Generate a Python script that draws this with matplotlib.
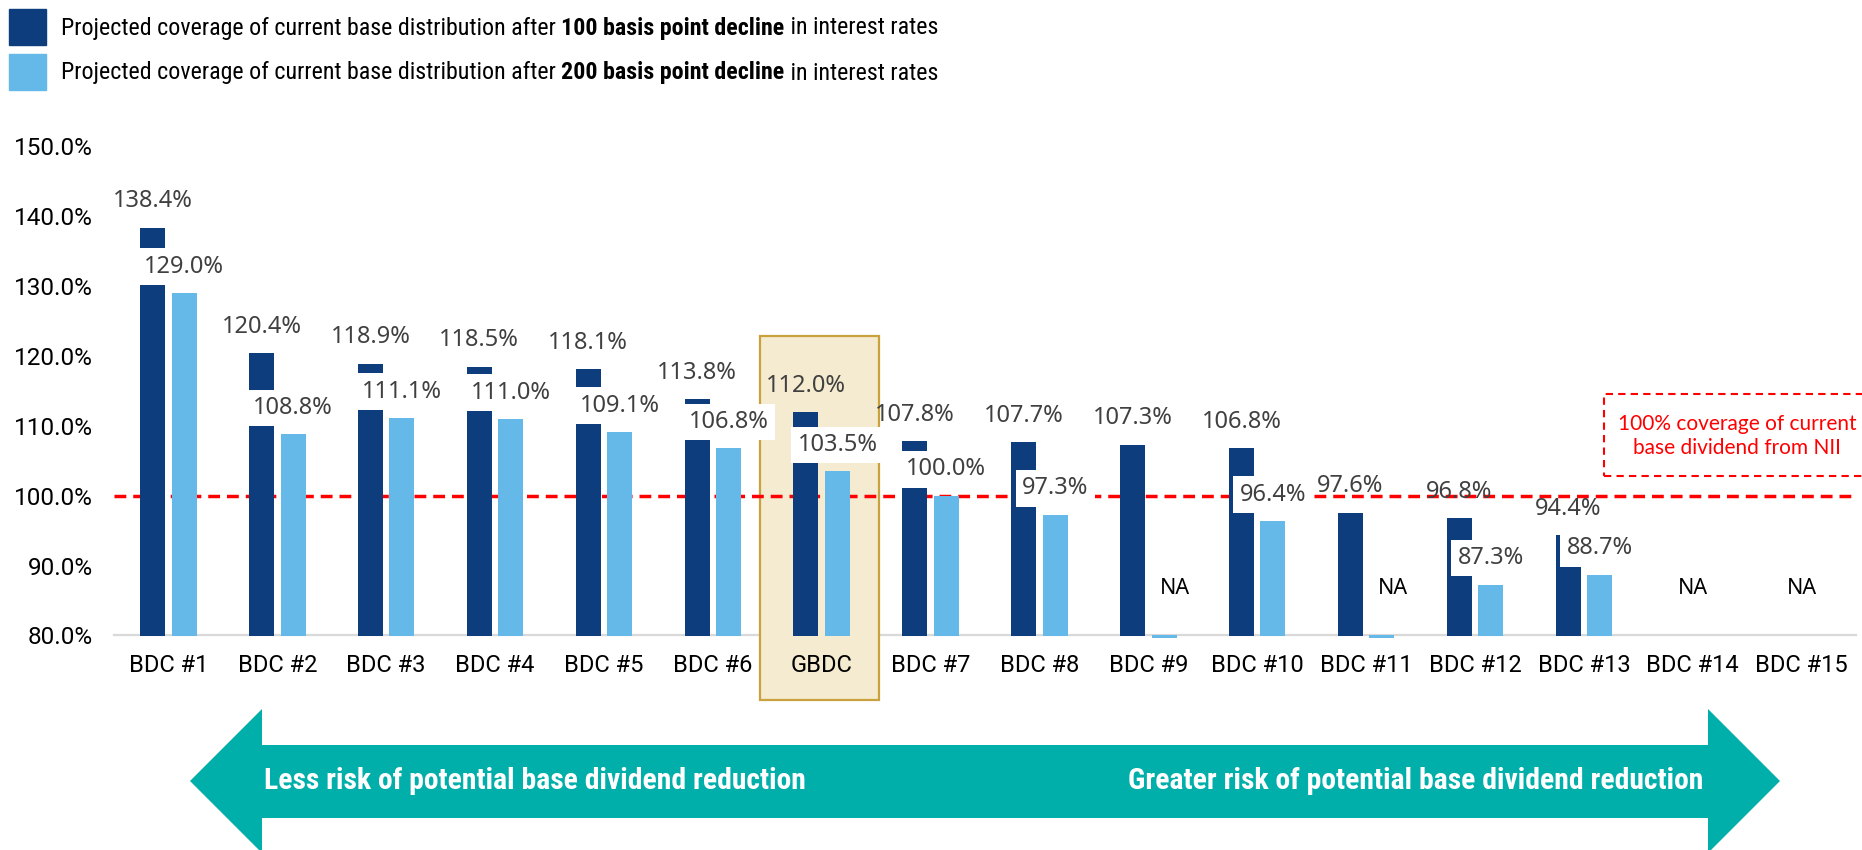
import matplotlib
matplotlib.use("Agg")
import matplotlib.pyplot as plt
import numpy as np
from matplotlib import font_manager
from matplotlib.patches import Rectangle, Polygon

# --- data -----------------------------------------------------------------
categories = ["BDC #1", "BDC #2", "BDC #3", "BDC #4", "BDC #5", "BDC #6", "GBDC",
              "BDC #7", "BDC #8", "BDC #9", "BDC #10", "BDC #11", "BDC #12",
              "BDC #13", "BDC #14", "BDC #15"]
cov_100bp = [138.4, 120.4, 118.9, 118.5, 118.1, 113.8, 112.0, 107.8, 107.7,
             107.3, 106.8, 97.6, 96.8, 94.4, None, None]
cov_200bp = [129.0, 108.8, 111.1, 111.0, 109.1, 106.8, 103.5, 100.0, 97.3,
             None, 96.4, None, 87.3, 88.7, None, None]
yticks = [80, 90, 100, 110, 120, 130, 140, 150]
threshold = 100.0
highlight = "GBDC"

DARK = "#0D3D7C"
LIGHT = "#64B9E8"
TEAL = "#00AFA9"
RED = "#FF0000"


def pick_font(*names):
    avail = {f.name for f in font_manager.fontManager.ttflist}
    for n in names:
        if n in avail:
            return n
    return "DejaVu Sans"


NARROW = pick_font("Roboto Condensed", "Liberation Sans Narrow", "Roboto")
LABEL_FONT = pick_font("Noto Sans", "Roboto")

W, H = 1862, 850
fig = plt.figure(figsize=(W / 100, H / 100), dpi=100)


def fx(px):
    return px / W


def fy(py):
    return 1 - py / H


ax = fig.add_axes([fx(114), fy(635.5), fx(1856 - 114), (635.5 - 146.5) / H])

x = np.arange(len(categories))
off = 0.145
bw = 0.23

dark_vals = [np.nan if v is None else v for v in cov_100bp]
light_vals = [np.nan if v is None else v for v in cov_200bp]

ax.bar(x - off, dark_vals, width=bw, color=DARK, zorder=2)
ax.bar(x + off, light_vals, width=bw, color=LIGHT, zorder=2)

# NA stubs where only the 200bp value is missing
for i, (d, l) in enumerate(zip(cov_100bp, cov_200bp)):
    if d is not None and l is None:
        ax.bar(i + off, -0.3, bottom=80, width=bw, color=LIGHT, clip_on=False, zorder=2)

ax.axhline(threshold, color=RED, lw=2.5, linestyle=(0, (3.4, 2.0)), zorder=1.5)
ax.axhline(80, color="#D9D9D9", lw=1.6, clip_on=False, zorder=0.4)

gi = categories.index(highlight)
ax.add_patch(Rectangle((gi - 0.565, 70.7), 1.093, 52.15, facecolor="#F5EBD0",
                       edgecolor="#C9A23E", lw=1.6, clip_on=False, zorder=0.5))

# value labels
for i, (d, l) in enumerate(zip(cov_100bp, cov_200bp)):
    if d is not None:
        ax.annotate(f"{d:.1f}%", (i - off, d), xytext=(0, 19), textcoords="offset points",
                    ha="center", va="center", fontsize=17, color="#404040",
                    family=LABEL_FONT, zorder=3)
    if l is not None:
        ax.annotate(f"{l:.1f}%", (i + off, l), xytext=(0, 19), textcoords="offset points",
                    ha="center", va="center", fontsize=17, color="#404040",
                    family=LABEL_FONT, zorder=3,
                    bbox=dict(boxstyle="square,pad=0.27", fc="white", ec="none"))
    elif d is not None:
        ax.text(i + off + 0.1, 86.7, "NA", ha="center", va="center", fontsize=15.5,
                family=LABEL_FONT, color="black", zorder=3)
    else:
        ax.text(i, 86.7, "NA", ha="center", va="center", fontsize=15.5,
                family=LABEL_FONT, color="black", zorder=3)

ax.set_xlim(-0.5, len(categories) - 0.5)
ax.set_ylim(80, 150)
ax.set_yticks(yticks)
ax.set_yticklabels([f"{t:.1f}%" for t in yticks], fontsize=17.5, family="Roboto")
ax.set_xticks(x)
ax.set_xticklabels(categories, fontsize=17, family="Roboto")
ax.tick_params(axis="y", length=0, pad=15)
ax.tick_params(axis="x", length=0, pad=13.5)
for s in ax.spines.values():
    s.set_visible(False)

# --- legend (mixed bold runs) ---------------------------------------------
renderer = fig.canvas.get_renderer()


def runs_width(runs, size, family):
    total = 0
    for s, w in runs:
        t = fig.text(0, 0, s, fontsize=size, fontweight=w, family=family)
        total += t.get_window_extent(renderer).width
        t.remove()
    return total


def put_runs(x0, y0, runs, size, family, **kw):
    xp = x0
    for s, w in runs:
        t = fig.text(fx(xp), fy(y0), s, fontsize=size, fontweight=w, family=family,
                     ha="left", va="center", **kw)
        xp += t.get_window_extent(renderer).width


leg_rows = [
    (DARK, [("Projected coverage of current base distribution after ", "normal"),
            ("100 basis point decline", "bold"), (" in interest rates", "normal")]),
    (LIGHT, [("Projected coverage of current base distribution after ", "normal"),
             ("200 basis point decline", "bold"), (" in interest rates", "normal")]),
]
leg_size = 14 * 884 / runs_width(leg_rows[0][1], 14, NARROW)
for k, (col, runs) in enumerate(leg_rows):
    top = 9 + k * 45
    fig.add_artist(Rectangle((fx(9), fy(top + 36)), 37 / W, 36 / H,
                             transform=fig.transFigure, color=col))
    put_runs(61, top + 19, runs, leg_size, NARROW, color="black")

# --- red annotation box ----------------------------------------------------
fig.add_artist(Rectangle((fx(1604), fy(476)), 300 / W, 82 / H, transform=fig.transFigure,
                         fill=False, edgecolor=RED, lw=1.5, linestyle=(0, (3.5, 2.5))))
fig.text(fx(1737), fy(436), "100% coverage of current\nbase dividend from NII",
         ha="center", va="center", color=RED, fontsize=15, family="Lato",
         linespacing=1.25)

# --- risk arrow ------------------------------------------------------------
pts = [(190, 781), (262, 709), (262, 745), (1708, 745), (1708, 709), (1780, 781),
       (1708, 853), (1708, 818), (262, 818), (262, 853)]
fig.add_artist(Polygon([(fx(a), fy(b)) for a, b in pts], closed=True,
                       transform=fig.transFigure, color=TEAL, lw=0))
left_txt = "Less risk of potential base dividend reduction"
right_txt = "Greater risk of potential base dividend reduction"
arr_size = 16 * 542 / runs_width([(left_txt, "bold")], 16, NARROW)
fig.text(fx(264), fy(781), left_txt, ha="left", va="center", color="white",
         fontsize=arr_size, fontweight="bold", family=NARROW)
fig.text(fx(1703), fy(781), right_txt, ha="right", va="center", color="white",
         fontsize=arr_size, fontweight="bold", family=NARROW)

fig.savefig("out.png", dpi=100)
